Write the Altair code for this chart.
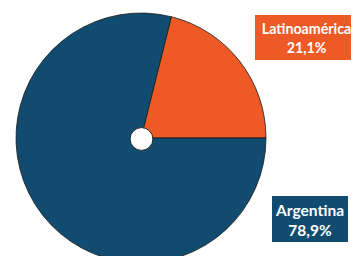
import math
import altair as alt
import pandas as pd

categories = ["Latinoamérica", "Argentina"]
values = [21.1, 78.9]
colors = ["#EE5A26", "#114C70"]

df = pd.DataFrame({"cat": categories, "val": values, "ord": [0, 1]})
start = (90 - 360 * values[0] / 100) * math.pi / 180

def pct(v):
    return f"{v:.1f}".replace(".", ",") + "%"

pie = alt.Chart(df).mark_arc(stroke="#1a1a1a", strokeWidth=0.8, radius=125).encode(
    theta=alt.Theta("val:Q", stack=True, scale=alt.Scale(range=[start, start + 2 * math.pi])),
    color=alt.Color("cat:N", scale=alt.Scale(domain=categories, range=colors), legend=None),
    order=alt.Order("ord:Q"),
    x=alt.value(133), y=alt.value(130),
)

hole = alt.Chart(pd.DataFrame({"a": [0]})).mark_point(
    shape="circle", size=520, filled=True, fill="white", stroke="#222", strokeWidth=1, opacity=1
).encode(x=alt.value(133.5), y=alt.value(131))

def label(i, x1, x2, y1, y2, cx, yl1, yl2, fs):
    d = pd.DataFrame({"t1": [categories[i]], "t2": [pct(values[i])]})
    base = alt.Chart(d)
    box = base.mark_rect(color=colors[i]).encode(
        x=alt.value(x1), x2=alt.value(x2), y=alt.value(y1), y2=alt.value(y2))
    t1 = base.mark_text(font="Lato", fontWeight="bold", fontSize=fs, color="white",
                        align="center", baseline="middle").encode(
        text="t1:N", x=alt.value(cx), y=alt.value(yl1))
    t2 = base.mark_text(font="Lato", fontWeight="bold", fontSize=fs, color="white",
                        align="center", baseline="middle").encode(
        text="t2:N", x=alt.value(cx), y=alt.value(yl2))
    return box + t1 + t2

lab1 = label(0, 247, 350, 7, 52, 298.5, 22, 41, 14.2)
lab2 = label(1, 264, 340, 188, 234, 302, 203, 223, 15.5)

chart = alt.layer(pie, hole, lab1, lab2).properties(
    width=343, height=248, padding=0, autosize="none"
).configure_view(stroke=None)

chart.save("out.html", embed_options={"renderer": "svg", "actions": False})
